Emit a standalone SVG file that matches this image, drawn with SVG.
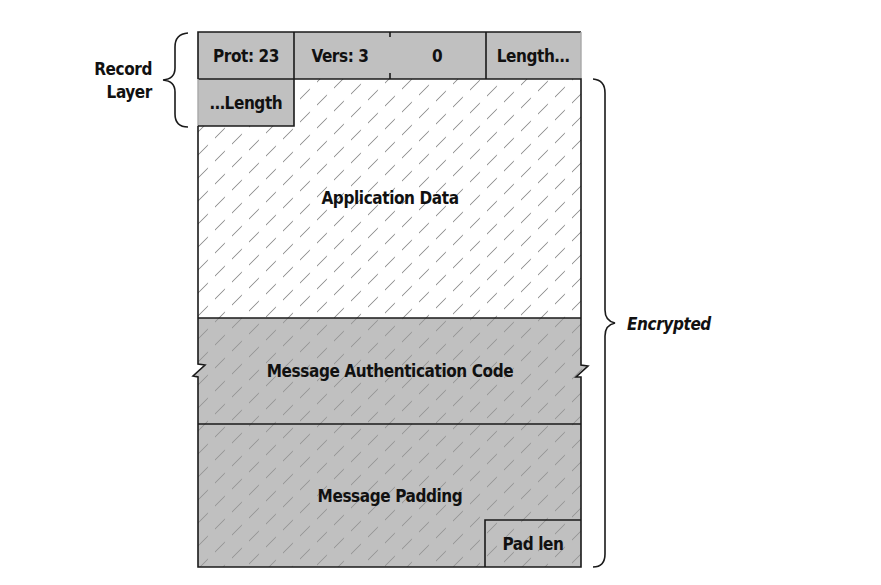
<svg xmlns="http://www.w3.org/2000/svg" width="881" height="585" viewBox="0 0 881 585">
<style>
.t{font-family:"DejaVu Sans Condensed","DejaVu Sans",sans-serif;font-stretch:condensed;font-weight:bold;font-size:17px;letter-spacing:-0.4px;fill:#111;text-anchor:middle;dominant-baseline:central}
.ln{fill:none;stroke:#1a1a1a;stroke-width:1.6}
.gray{fill:#c0c0c0}
.brace{fill:none;stroke:#1a1a1a;stroke-width:1.6}
</style>
<defs>
<pattern id="hatch" patternUnits="userSpaceOnUse" width="17" height="23" patternTransform="translate(11,8.5) matrix(1 -1 0 1 0 0)">
<line x1="0" y1="11.5" x2="10" y2="11.5" stroke="#9a9a9a" stroke-width="1.4"/>
</pattern>
</defs>
<rect width="881" height="585" fill="#fff"/>

<g id="app-data">
<rect x="198" y="79" width="383" height="239" fill="#fff"/>
<rect x="198" y="79" width="383" height="239" fill="url(#hatch)"/>
<text class="t" x="390" y="198">Application Data</text>
</g>

<g id="mac">
<path class="gray" d="M198,318 H581 V365 L588,366 L576,377 L581,377 V424 H198 V377 L193,376 L205,365 L198,364 Z"/>
<path fill="url(#hatch)" d="M198,318 H581 V365 L588,366 L576,377 L581,377 V424 H198 V377 L193,376 L205,365 L198,364 Z"/>
<text class="t" x="390" y="371">Message Authentication Code</text>
</g>

<g id="padding">
<rect class="gray" x="198" y="424" width="383" height="143"/>
<rect x="198" y="424" width="383" height="143" fill="url(#hatch)"/>
<text class="t" x="390" y="496">Message Padding</text>
</g>

<g id="pad-len">
<path class="ln" d="M485,567 V520 H581"/>
<text class="t" x="533" y="544">Pad len</text>
</g>

<g id="prot">
<rect class="gray" x="198" y="32" width="96" height="47"/>
<text class="t" x="246" y="56">Prot: 23</text>
</g>
<g id="vers">
<rect class="gray" x="294" y="32" width="96" height="47"/>
<text class="t" x="340" y="56">Vers: 3</text>
</g>
<g id="zero">
<rect class="gray" x="390" y="32" width="96" height="47"/>
<text class="t" x="437" y="56">0</text>
</g>
<g id="length-hi">
<rect class="gray" x="486" y="32" width="95" height="47"/>
<text class="t" x="533" y="56">Length…</text>
</g>
<g id="length-lo">
<rect class="gray" x="198" y="79" width="96" height="47"/>
<text class="t" x="246" y="103">…Length</text>
</g>

<g id="outlines">
<path class="ln" d="M198,79 V32 H581"/>
<path fill="none" stroke="#a8a8a8" stroke-width="1.4" d="M581,32 V79"/>
<path class="ln" d="M198,79 H581 V365 L588,366 L576,377 L581,377 V567 H198 V377 L193,376 L205,365 L198,364 V126"/>
<path fill="none" stroke="#a8a8a8" stroke-width="1.4" d="M198,79 V126"/>
<path class="ln" d="M294,32 V79 M486,32 V79 M390,32 V37 M390,73 V79"/>
<path class="ln" d="M198,126 H294 V79"/>
<path class="ln" d="M198,318 H581 M198,424 H581"/>
</g>

<g id="connectors">
<path class="brace" d="M188,33 Q175,34 175,47 V68 Q175,79 163,80 Q175,81 175,92 V114 Q175,127 188,127"/>
<path class="brace" d="M593,79 Q605,80 605,93 V310 Q605,321 615,323 Q605,325 605,336 V554 Q605,567 593,567"/>
</g>

<g id="record-layer">
<text class="t" x="152" y="69" style="text-anchor:end">Record</text>
<text class="t" x="152" y="92" style="text-anchor:end">Layer</text>
</g>
<g id="encrypted">
<text class="t" x="627" y="324" style="text-anchor:start;font-style:italic">Encrypted</text>
</g>
</svg>
